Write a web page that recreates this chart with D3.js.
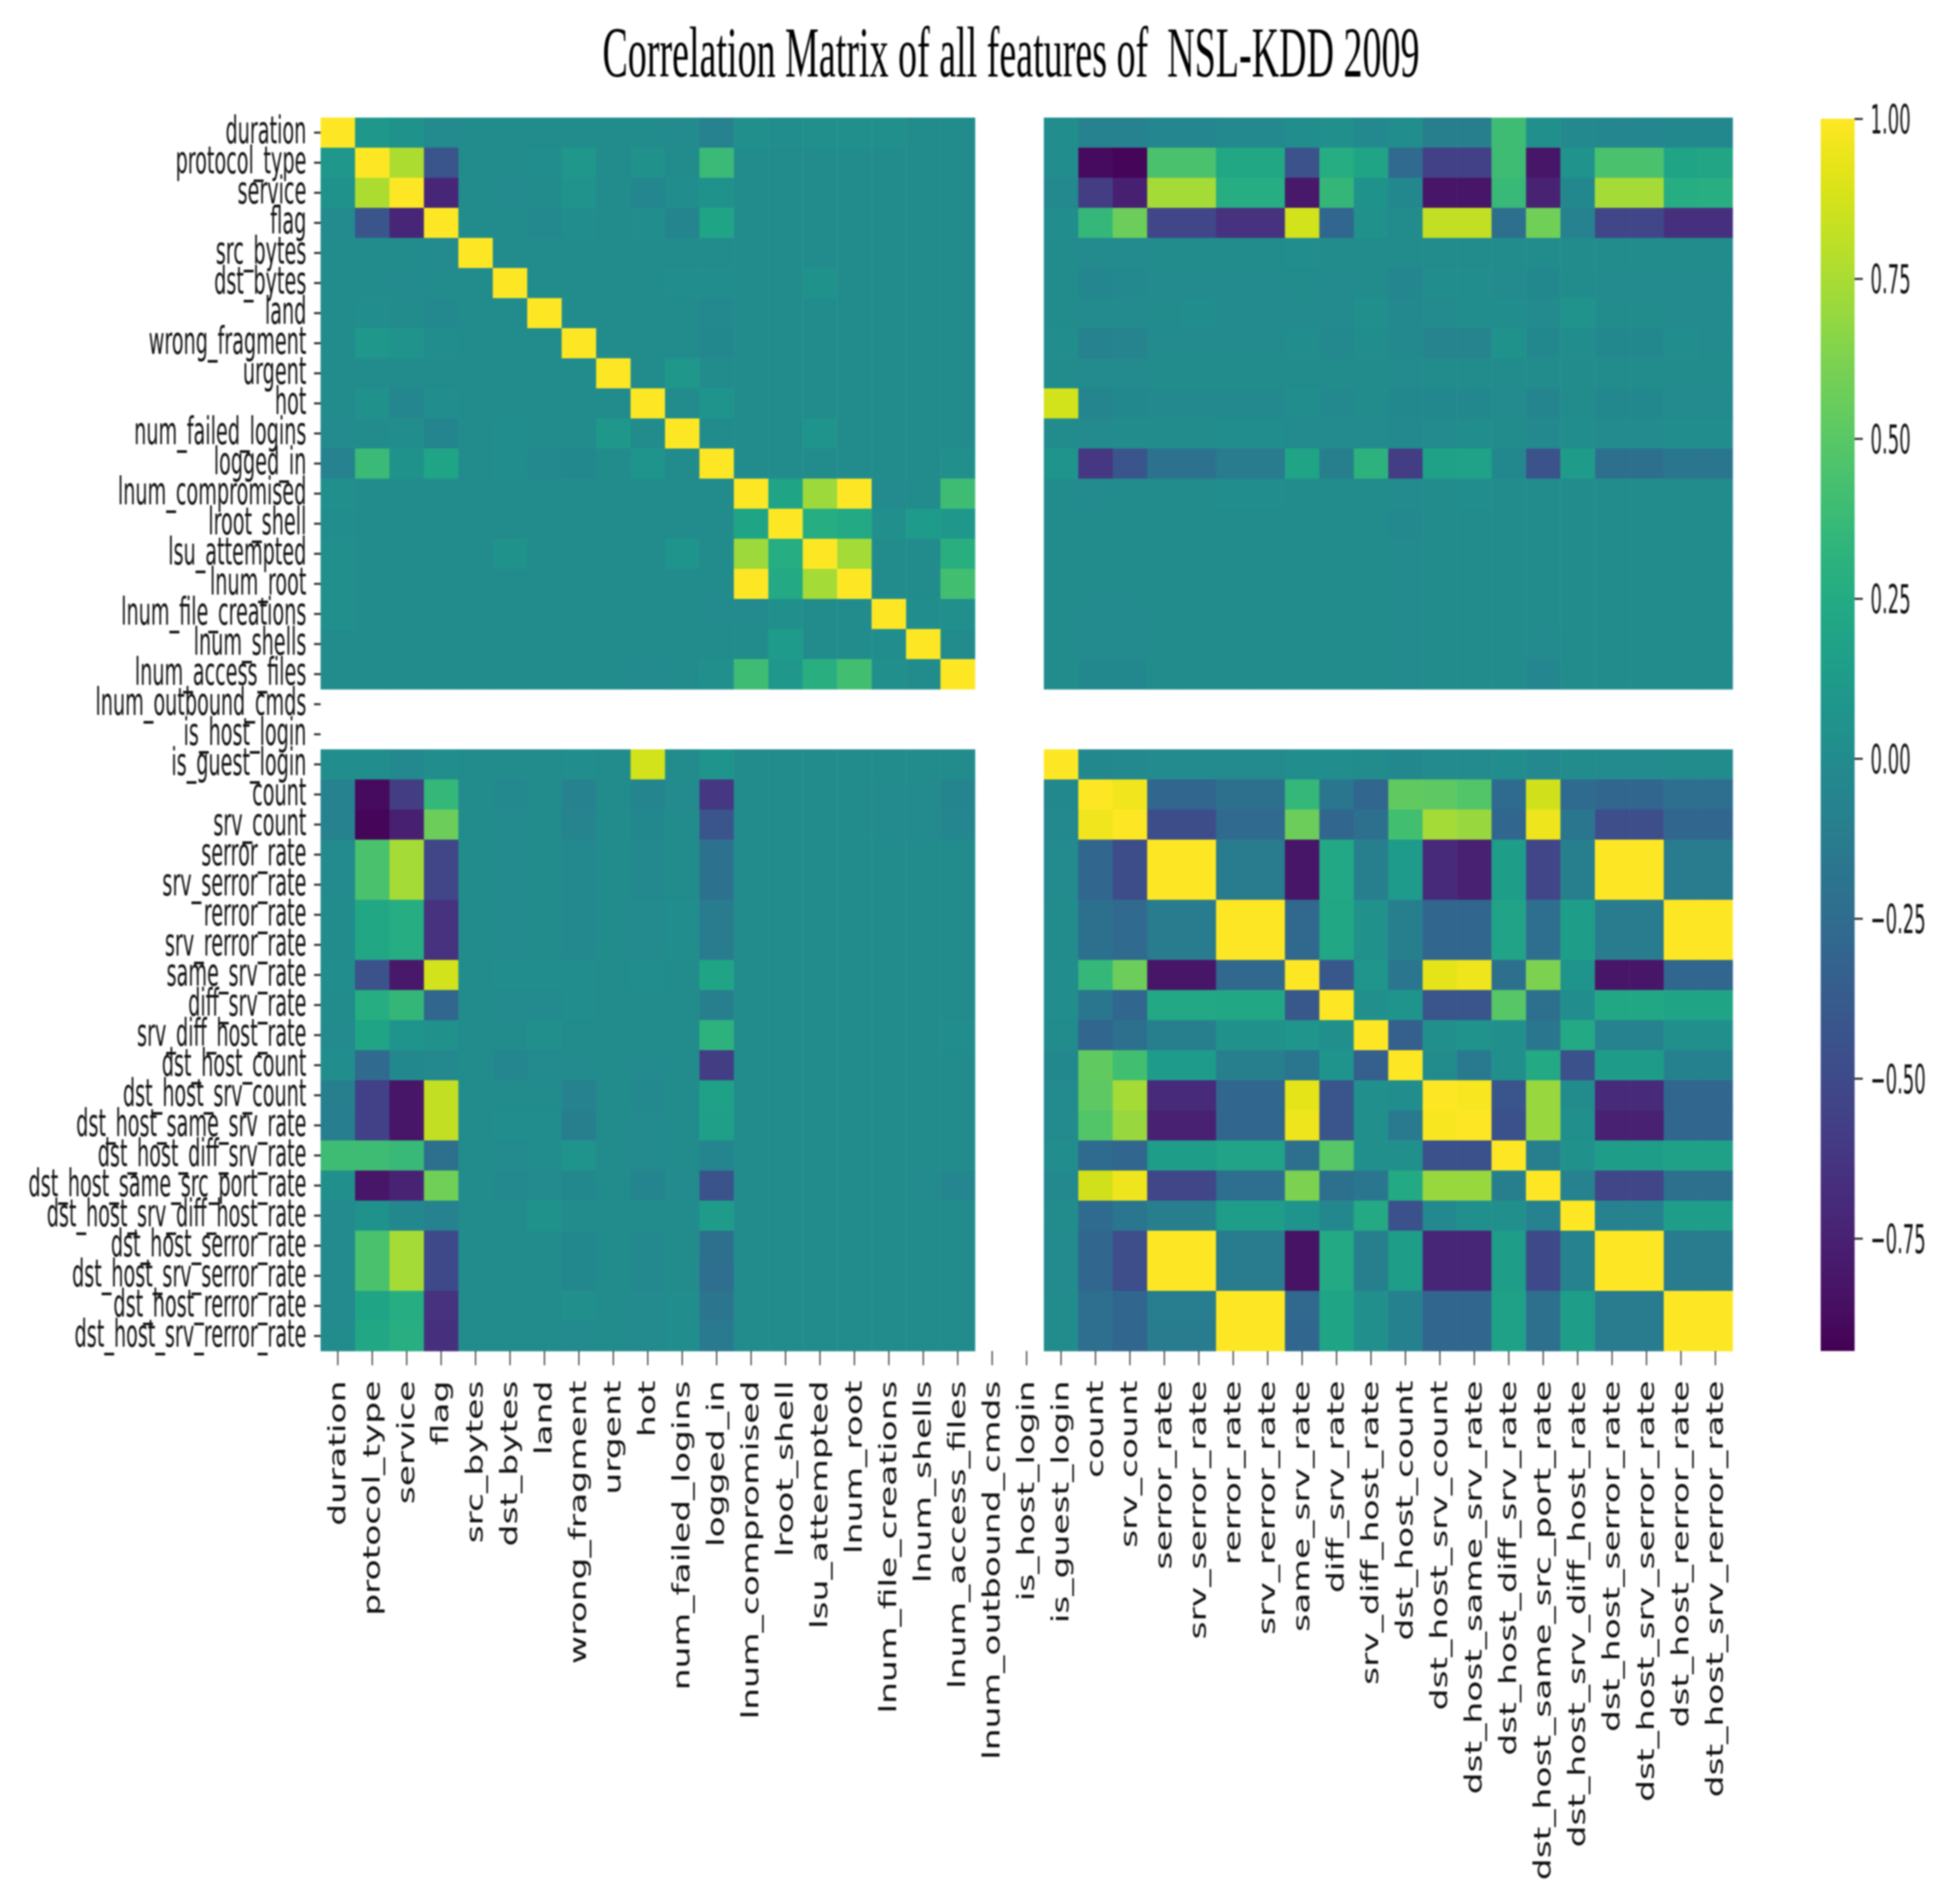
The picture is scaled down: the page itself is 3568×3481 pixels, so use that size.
<!DOCTYPE html>
<html>
<head>
<meta charset="utf-8">
<title>Correlation Matrix</title>
<script src="https://cdn.jsdelivr.net/npm/d3@7"></script>
<style>
    html, body { margin: 0; padding: 0; background: #fff; }
    svg { display: block; filter: blur(1.6px); }
    text { font-family: "DejaVu Sans", sans-serif; fill: #111; }
    .title { font-family: "Liberation Serif", serif; white-space: pre; fill: #000; }
</style>
</head>
<body>
<div id="chart"></div>
<script>
var features = ['duration','protocol_type','service','flag','src_bytes','dst_bytes','land','wrong_fragment','urgent','hot',
    'num_failed_logins','logged_in','lnum_compromised','lroot_shell','lsu_attempted','lnum_root','lnum_file_creations',
    'lnum_shells','lnum_access_files','lnum_outbound_cmds','is_host_login','is_guest_login','count','srv_count','serror_rate',
    'srv_serror_rate','rerror_rate','srv_rerror_rate','same_srv_rate','diff_srv_rate','srv_diff_host_rate','dst_host_count',
    'dst_host_srv_count','dst_host_same_srv_rate','dst_host_diff_srv_rate','dst_host_same_src_port_rate',
    'dst_host_srv_diff_host_rate','dst_host_serror_rate','dst_host_srv_serror_rate','dst_host_rerror_rate','dst_host_srv_rerror_rate'];

var _ = null;
// values, row by row
var correlations = [
[1,.09,.05,-.01,0,0,0,0,0,0,-.01,-.07,.03,.01,.03,.03,.03,0,0,_,_,.01,-.08,-.07,-.04,-.04,-.02,-.02,.01,.03,-.02,.01,-.1,-.1,.4,.03,-.02,-.04,-.04,-.03,-.03],
[.09,1,.76,-.42,0,0,.01,.09,0,.04,0,.38,0,0,0,0,0,0,0,_,_,.02,-.87,-.9,.45,.45,.22,.22,-.44,.27,.2,-.27,-.56,-.56,.4,-.82,.06,.45,.45,.2,.21],
[.05,.76,1,-.72,0,-.01,0,.06,0,-.04,.01,.05,0,0,0,0,0,0,0,_,_,-.02,-.58,-.76,.74,.74,.27,.27,-.8,.35,.05,-.03,-.82,-.82,.37,-.74,-.03,.74,.74,.27,.28],
[-.01,-.42,-.72,1,0,0,-.02,.01,0,.01,-.05,.2,0,0,0,0,0,0,0,_,_,.01,.36,.57,-.52,-.52,-.65,-.65,.87,-.3,.04,0,.82,.82,-.22,.58,-.07,-.52,-.52,-.66,-.66],
[0,0,0,-.01,1,0,0,0,0,0,0,0,0,0,0,0,0,0,0,_,_,0,-.01,-.01,0,0,0,0,.01,0,0,0,0,0,0,0,0,0,0,0,0],
[0,0,-.01,0,0,1,0,0,0,0,.01,.01,0,0,.05,0,0,0,0,_,_,0,-.04,-.02,-.01,-.01,-.01,-.01,0,-.01,0,-.04,.01,.02,-.01,-.03,0,-.01,-.01,-.01,-.01],
[0,.01,0,-.02,0,0,1,0,0,0,0,-.02,0,0,0,0,0,0,0,_,_,0,-.01,-.01,0,.01,-.01,-.01,-.01,-.01,.03,-.02,-.01,.01,.01,-.01,.06,0,0,-.01,-.01],
[0,.09,.06,.01,0,0,0,1,0,0,0,-.03,0,0,0,0,0,0,0,_,_,.01,-.08,-.06,-.01,-.01,-.01,-.01,.01,-.02,.01,-.02,-.06,-.06,.05,-.03,.01,-.03,-.03,.01,-.01],
[0,0,0,0,0,0,0,0,1,0,.1,0,0,0,0,0,0,0,0,_,_,0,-.01,-.01,0,0,0,0,0,0,0,-.01,0,0,0,0,0,0,0,0,0],
[0,.04,-.04,.01,0,0,0,0,0,1,0,.07,0,0,0,0,0,0,0,_,_,.87,-.05,-.03,-.02,-.02,-.02,-.02,.02,-.02,0,-.03,-.03,-.03,-.01,-.05,0,-.03,-.03,-.01,-.01],
[-.01,0,.01,-.05,0,.01,0,0,.1,0,1,0,0,0,.07,0,0,0,0,_,_,0,-.01,0,0,0,.01,.01,-.01,-.01,-.01,-.02,-.01,.01,0,-.02,.01,-.01,-.01,.01,.01],
[-.07,.38,.05,.2,0,.01,-.02,-.03,0,.07,0,1,0,0,0,0,0,0,.03,_,_,.07,-.62,-.42,-.2,-.2,-.13,-.13,.2,-.1,.31,-.58,.17,.18,-.03,-.43,.13,-.22,-.22,-.17,-.17],
[.03,0,0,0,0,0,0,0,0,0,0,0,1,.2,.72,1,-.01,0,.4,_,_,0,-.01,0,0,0,.01,.01,0,0,0,-.01,0,.01,0,0,0,0,0,0,0],
[.01,0,0,0,0,0,0,0,0,0,0,0,.2,1,.27,.24,.03,.12,.1,_,_,0,0,0,0,0,0,0,0,0,0,-.02,0,0,0,0,0,0,0,0,0],
[.03,0,0,0,0,.05,0,0,0,0,.07,0,.72,.27,1,.74,0,0,.29,_,_,0,0,0,0,0,0,0,0,0,0,-.01,0,0,0,0,0,0,0,0,0],
[.03,0,0,0,0,0,0,0,0,0,0,0,1,.24,.74,1,0,0,.42,_,_,0,0,0,0,0,0,0,0,0,0,-.01,0,0,0,0,0,0,0,0,0],
[.03,0,0,0,0,0,0,0,0,0,0,-.01,-.01,.03,0,0,1,.02,.03,_,_,0,-.01,-.01,0,0,0,0,0,0,0,-.01,0,0,0,0,0,0,0,0,0],
[0,0,0,0,0,0,0,0,0,0,0,0,0,.12,0,0,.02,1,0,_,_,0,-.01,-.01,0,0,0,0,0,0,0,-.01,0,0,0,-.01,0,0,0,0,0],
[0,0,0,0,0,0,0,0,0,-.01,0,.03,.4,.1,.29,.42,.03,0,1,_,_,0,-.03,-.03,0,0,0,0,0,0,0,-.01,0,0,0,-.04,0,0,0,0,0],
[_,_,_,_,_,_,_,_,_,_,_,_,_,_,_,_,_,_,_,_,_,_,_,_,_,_,_,_,_,_,_,_,_,_,_,_,_,_,_,_,_],
[_,_,_,_,_,_,_,_,_,_,_,_,_,_,_,_,_,_,_,_,_,_,_,_,_,_,_,_,_,_,_,_,_,_,_,_,_,_,_,_,_],
[.01,.02,-.02,.01,0,0,0,.01,0,.87,0,.07,0,0,0,0,0,0,0,_,_,1,-.03,-.02,-.01,-.01,-.01,-.01,.01,.01,0,-.03,-.01,-.01,.01,-.02,0,-.01,-.01,0,0],
[-.08,-.87,-.58,.36,0,-.02,0,-.08,0,-.05,-.01,-.62,0,0,0,0,-.01,-.01,-.05,_,_,-.03,1,.96,-.3,-.3,-.22,-.22,.36,-.17,-.3,.53,.52,.48,-.26,.86,-.26,-.3,-.3,-.24,-.24],
[-.07,-.9,-.76,.57,0,-.01,0,-.06,0,-.03,0,-.42,0,0,0,0,-.01,-.01,-.04,_,_,-.02,.96,1,-.48,-.48,-.27,-.27,.57,-.3,-.22,.42,.74,.7,-.3,.95,-.17,-.47,-.47,-.3,-.3],
[-.01,.45,.74,-.52,0,-.01,0,-.02,0,-.02,0,-.2,0,0,0,0,0,0,0,_,_,-.01,-.3,-.48,1,1,-.13,-.13,-.82,.23,-.1,.12,-.7,-.75,.14,-.52,-.1,1,1,-.13,-.13],
[-.01,.45,.74,-.52,0,-.01,0,-.02,0,-.02,0,-.2,0,0,0,0,0,0,0,_,_,-.01,-.3,-.48,1,1,-.13,-.13,-.82,.23,-.1,.12,-.7,-.75,.14,-.52,-.1,1,1,-.13,-.13],
[0,.22,.27,-.65,0,-.01,0,-.02,0,-.01,.01,-.13,0,0,0,0,0,0,0,_,_,0,-.22,-.27,-.13,-.13,1,1,-.28,.22,.04,-.1,-.3,-.3,.19,-.24,.14,-.13,-.13,1,1],
[0,.22,.27,-.65,0,-.01,0,-.02,0,-.01,.01,-.13,0,0,0,0,0,0,0,_,_,0,-.22,-.27,-.13,-.13,1,1,-.28,.22,.04,-.1,-.3,-.3,.19,-.24,.14,-.13,-.13,1,1],
[.01,-.44,-.8,.87,0,.01,.01,.01,0,.02,0,.2,0,0,0,0,0,0,0,_,_,.01,.36,.57,-.82,-.82,-.28,-.28,1,-.4,.08,-.17,.92,.95,-.22,.62,.07,-.82,-.82,-.3,-.3],
[0,.27,.35,-.3,0,-.01,-.01,.01,0,0,0,-.1,0,0,0,0,0,0,0,_,_,.01,-.17,-.3,.23,.23,.22,.22,-.4,1,.03,.07,-.42,-.42,.49,-.22,.02,.22,.22,.2,.2],
[-.01,.2,.07,.04,0,0,.03,0,0,0,0,.31,0,0,0,0,0,0,.01,_,_,0,-.3,-.22,-.1,-.1,.04,.04,.08,.03,1,-.35,.03,.06,.03,-.17,.24,-.08,-.08,.03,.03],
[.02,-.27,-.03,-.02,0,-.04,-.01,-.01,0,-.01,0,-.58,0,0,0,0,0,0,0,_,_,-.03,.53,.42,.12,.12,-.1,-.1,-.17,.07,-.35,1,0,-.14,.03,.24,-.45,.13,.13,-.09,-.09],
[-.1,-.56,-.82,.82,0,0,0,-.07,0,-.02,0,.17,0,0,0,0,0,0,0,_,_,-.01,.52,.74,-.7,-.7,-.3,-.3,.92,-.42,.03,.02,1,.98,-.42,.7,0,-.7,-.7,-.3,-.3],
[-.11,-.56,-.82,.82,0,.01,.01,-.1,0,-.01,0,.15,0,0,0,0,0,0,0,_,_,-.01,.48,.7,-.75,-.75,-.3,-.3,.95,-.42,.03,-.14,.98,1,-.45,.7,.03,-.75,-.75,-.3,-.3],
[.4,.4,.37,-.22,0,-.01,.01,.07,0,-.01,0,-.05,0,0,0,0,0,0,0,_,_,.01,-.26,-.3,.14,.14,.19,.19,-.22,.49,.03,.03,-.45,-.45,1,-.1,.04,.14,.14,.17,.17],
[.03,-.82,-.74,.58,0,-.02,-.01,-.03,0,-.05,-.01,-.43,0,0,0,0,0,-.01,-.04,_,_,-.02,.86,.95,-.52,-.52,-.24,-.24,.62,-.22,-.17,.24,.7,.7,-.1,1,-.08,-.52,-.52,-.22,-.22],
[-.01,.05,-.03,-.07,0,0,.05,0,0,0,0,.13,0,0,0,0,0,0,0,_,_,0,-.26,-.17,-.1,-.1,.14,.14,.07,-.03,.24,-.45,-.02,.03,.03,-.08,1,-.08,-.08,.14,.14],
[-.01,.45,.74,-.5,0,0,0,-.03,0,-.02,0,-.22,0,0,0,0,0,0,0,_,_,-.01,-.3,-.47,1,1,-.13,-.13,-.83,.24,-.1,.14,-.72,-.72,.14,-.5,-.08,1,1,-.13,-.13],
[-.01,.45,.74,-.5,0,0,0,-.03,0,-.02,0,-.24,0,0,0,0,0,0,0,_,_,-.01,-.3,-.47,1,1,-.13,-.13,-.83,.24,-.1,.14,-.72,-.72,.14,-.5,-.08,1,1,-.13,-.13],
[-.01,.2,.27,-.65,0,0,0,.03,0,-.01,.01,-.18,0,0,0,0,0,0,0,_,_,0,-.24,-.3,-.12,-.12,1,1,-.28,.2,.03,-.09,-.3,-.3,.17,-.22,.14,-.13,-.13,1,1],
[0,.22,.28,-.66,0,0,0,-.01,0,-.01,.01,-.14,0,0,0,0,0,0,0,_,_,0,-.24,-.3,-.13,-.13,1,1,-.3,.2,.03,-.09,-.3,-.3,.17,-.22,.14,-.13,-.13,1,1]
];

var colorbarTicks = [1, 0.75, 0.5, 0.25, 0, -0.25, -0.5, -0.75];
var minValue = -0.926, maxValue = 1;
var titleText = 'Correlation Matrix of all features of  NSL-KDD 2009';

var svg = d3.select('#chart').append('svg')
    .attr('width', 3568)
    .attr('height', 3481);

var conf = { left: 586, right: 3167, top: 215, bottom: 2470, barLeft: 3328, barRight: 3390 };

var x = d3.scaleBand().domain(features).range([conf.left, conf.right]);
var y = d3.scaleBand().domain(features).range([conf.top, conf.bottom]);
var color = d3.scaleSequential(d3.interpolateViridis).domain([minValue, maxValue]);

svg.append('text')
    .attr('class', 'title')
    .attr('text-anchor', 'middle')
    .attr('font-size', 69.5)
    .attr('transform', 'translate(1848,140) scale(1,1.9)')
    .text(titleText);

// heatmap cells
var cells = [];
correlations.forEach(function(row, r) {
    row.forEach(function(v, c) {
        if (v !== null) cells.push({ row: features[r], col: features[c], value: v });
    });
});

svg.append('g').selectAll('rect')
    .data(cells).enter().append('rect')
    .attr('x', function(d) { return x(d.col); })
    .attr('y', function(d) { return y(d.row); })
    .attr('width', x.bandwidth() + 0.5)
    .attr('height', y.bandwidth() + 0.5)
    .attr('fill', function(d) { return color(d.value); });

// y axis, labels squeezed the way the picture was stretched
var yAxis = svg.append('g')
    .attr('transform', 'translate(' + conf.left + ',0)')
    .call(d3.axisLeft(y).tickSize(12).tickSizeOuter(0));
yAxis.select('.domain').remove();
yAxis.selectAll('line').attr('stroke', '#222').attr('stroke-width', 3.5);
yAxis.selectAll('text')
    .attr('x', 0).attr('dy', '.268em')
    .attr('font-size', 35.1)
    .attr('transform', 'translate(-26,1) scale(1,1.97)');

// x axis
var xAxis = svg.append('g')
    .attr('transform', 'translate(0,' + conf.bottom + ')')
    .call(d3.axisBottom(x).tickSize(26).tickSizeOuter(0));
xAxis.select('.domain').remove();
xAxis.selectAll('line').attr('stroke', '#222').attr('stroke-width', 2);
xAxis.selectAll('text')
    .attr('x', 0).attr('y', 0).attr('dy', '.36em')
    .attr('text-anchor', 'end')
    .attr('font-size', 42)
    .attr('transform', 'translate(-2,54) rotate(-90) scale(1.503,1)');

// colorbar
var barScale = d3.scaleLinear().domain([minValue, maxValue]).range([conf.bottom, 217]);
var grad = svg.append('defs').append('linearGradient')
    .attr('id', 'barGrad')
    .attr('x1', 0).attr('x2', 0).attr('y1', 1).attr('y2', 0);
grad.selectAll('stop')
    .data(d3.range(0, 1.001, 0.02)).enter().append('stop')
    .attr('offset', function(d) { return d; })
    .attr('stop-color', function(d) { return d3.interpolateViridis(d); });

svg.append('rect')
    .attr('x', conf.barLeft)
    .attr('y', barScale(maxValue))
    .attr('width', conf.barRight - conf.barLeft)
    .attr('height', conf.bottom - barScale(maxValue))
    .attr('fill', 'url(#barGrad)');

var barAxis = svg.append('g')
    .attr('transform', 'translate(' + conf.barRight + ',0)')
    .call(d3.axisRight(barScale).tickValues(colorbarTicks).tickSize(15)
        .tickFormat(function(d) { return d3.format('.2f')(d).replace('-', '\u2212'); }));
barAxis.select('.domain').remove();
barAxis.selectAll('line').attr('stroke', '#222').attr('stroke-width', 3.5);
barAxis.selectAll('text')
    .attr('x', 0).attr('dy', '.365em')
    .attr('font-size', 33)
    .attr('transform', 'translate(29,0) scale(1,2.2)');

svg.selectAll('.tick text').style('font-family', '"DejaVu Sans", sans-serif').style('fill', '#111');
</script>
</body>
</html>
